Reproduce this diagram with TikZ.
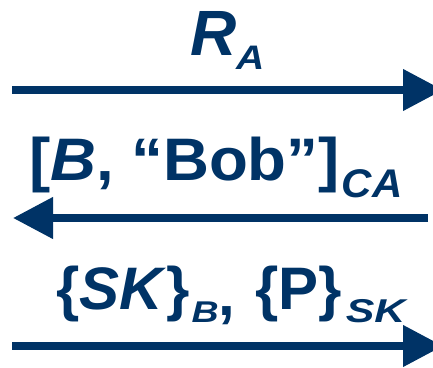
\documentclass[tikz,border=0pt]{standalone}
\usepackage{fontspec}
\setmainfont{Liberation Sans}
\usepackage{graphicx}
\usetikzlibrary{arrows.meta}
\definecolor{navy}{HTML}{003366}
\newcommand{\mainsz}[1]{\fontsize{#1}{#1}\selectfont\bfseries}
\begin{document}
\begin{tikzpicture}[x=1pt,y=-1pt,
  msg/.style={draw=navy,line width=7.5pt,-{Triangle[length=40pt,width=40pt]}},
  lbl/.style={inner sep=0pt,outer sep=0pt,anchor=base west,text=navy}]
\useasboundingbox (0,0) rectangle (433,367);
\clip (0,0) rectangle (433,367);
% labels
\node[lbl] (l1) at (190,55) {\mainsz{64}\itshape R\raisebox{-14pt}{\scalebox{1.15}[1]{\mainsz{34}\itshape A}}};
\node[lbl] (l2) at (29,180) {\scalebox{1.06}[1]{\mainsz{60}[\textit{B}, “Bob”]}\kern2pt\raisebox{-17pt}{\scalebox{1.05}[1]{\mainsz{40}\itshape CA}}};
\node[lbl] (l3) at (56,309) {\mainsz{60}\{\textit{SK}\}\kern2pt\raisebox{-13pt}{\scalebox{1.25}[1]{\mainsz{30}\itshape B}}\raisebox{-6pt}{,}\kern3pt\ \{P\}\kern4pt\raisebox{-13pt}{\scalebox{1.3}[1]{\mainsz{33}\itshape SK}}};
% arrows
\coordinate (a1s) at (12,90);
\coordinate (a1e) at (443,90);
\coordinate (a2s) at (428,218);
\coordinate (a2e) at (13,218);
\coordinate (a3s) at (12,346);
\coordinate (a3e) at (443,346);
\draw[msg] (a1s) -- (a1e);
\draw[msg] (a2s) -- (a2e);
\draw[msg] (a3s) -- (a3e);
\end{tikzpicture}
\end{document}
